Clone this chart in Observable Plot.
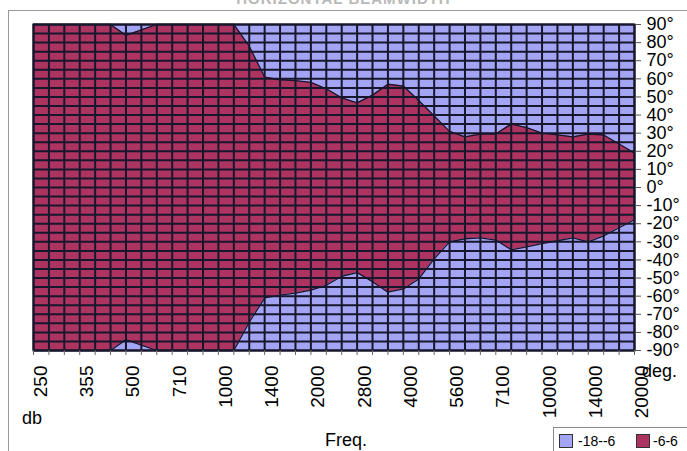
<!DOCTYPE html>
<html>
<head>
<meta charset="utf-8">
<script src="https://cdn.jsdelivr.net/npm/d3@7"></script>
<script src="https://cdn.jsdelivr.net/npm/@observablehq/plot@0.6"></script>
<style>
  html, body { margin: 0; padding: 0; background: #fff; }
  body { width: 687px; height: 451px; position: relative; overflow: hidden; font-family: "Liberation Sans", Arial, sans-serif; }
  #chart { position: absolute; left: 0; top: 0; }
  .lbl { position: absolute; font-size: 18px; color: #000; white-space: nowrap; line-height: 1; }
  #border { position: absolute; left: 8px; top: 10px; width: 700px; height: 460px; border-top: 1px solid #9a9a9a; border-left: 1px solid #9a9a9a; }
  #title { position: absolute; left: 0; width: 687px; top: -9px; text-align: center; font-size: 15px; font-weight: bold; color: #b8b8b8; line-height: 1; letter-spacing: 1px; }
  #legend { position: absolute; left: 553px; top: 427px; width: 140px; height: 30px; border: 1px solid #8a8a8a; background: #fff; font-size: 14px; }
  .sw { position: absolute; top: 6px; width: 14px; height: 14px; border: 1px solid #333; box-sizing: border-box; }
  .lt { position: absolute; top: 6px; line-height: 14px; }
</style>
</head>
<body>
<div id="chart"></div>
<div id="border"></div>
<div id="title">HORIZONTAL BEAMWIDTH</div>
<div class="lbl" style="left:642px; top:362px;">deg.</div>
<div class="lbl" style="left:22px; top:409px;">db</div>
<div class="lbl" style="left:325px; top:431px;">Freq.</div>
<div id="legend">
  <div class="sw" style="left:5px; background:#a4a4f4;"></div>
  <div class="lt" style="left:24px;">-18--6</div>
  <div class="sw" style="left:82px; background:#ad3460;"></div>
  <div class="lt" style="left:99px;">-6-6</div>
</div>
<script>
// Frequency category labels (every third fine column)
const categories = ["250","355","500","710","1000","1400","2000","2800","4000","5600","7100","10000","14000","20000"];
// Degree tick labels
const degreeTicks = [-90,-80,-70,-60,-50,-40,-30,-20,-10,0,10,20,30,40,50,60,70,80,90];
const degreeGrid = [-90,-85,-80,-75,-70,-65,-60,-55,-50,-45,-40,-35,-30,-25,-20,-15,-10,-5,0,5,10,15,20,25,30,35,40,45,50,55,60,65,70,75,80,85,90];
// Upper boundary (deg) of the -6..6 dB region at each of 40 fine columns
const upper = [90,90,90,90,90,90,84,87,90,90,90,90,90,90,78,61,59.5,59,58,54.5,49.5,46.7,51,57,56,48,39.5,31,28,29.5,29.5,35,33,30,29,28,29.5,29,24,19];
// Lower boundary (deg)
const lower = [-90,-90,-90,-90,-90,-90,-84,-87,-90,-90,-90,-90,-90,-90,-74.4,-61,-59.4,-58.3,-56.7,-54,-49,-47,-52,-57.8,-56,-50.5,-39.4,-30,-28.3,-27.8,-29,-34.4,-32.8,-31,-29.4,-27.8,-30,-26.7,-22.2,-17.8];

const BLUE = "#a4a4f4", RED = "#ad3460", GRID = "#16162c";
const fine = upper.map((_, i) => i);
const cols = upper.map((u, i) => ({i, u, l: lower[i]}));
const catTicks = categories.map((_, k) => k * 3);

const chart = Plot.plot({
  width: 687,
  height: 451,
  marginLeft: 33,
  marginRight: 53,
  marginTop: 24,
  marginBottom: 101,
  x: {domain: [0, fine.length - 1], axis: null},
  y: {domain: [-90, 90], axis: null},
  style: {fontFamily: "'Liberation Sans', Arial, sans-serif", background: "transparent", color: "#000"},
  marks: [
    Plot.frame({fill: BLUE, stroke: null}),
    Plot.areaY(cols, {x: "i", y1: "l", y2: "u", fill: RED}),
    Plot.gridX({ticks: fine, stroke: GRID, strokeOpacity: 1, strokeWidth: 2}),
    Plot.gridY({ticks: degreeGrid, stroke: GRID, strokeOpacity: 1, strokeWidth: 2}),
    Plot.line(cols, {x: "i", y: "u", stroke: GRID, strokeWidth: 1.3}),
    Plot.line(cols, {x: "i", y: "l", stroke: GRID, strokeWidth: 1.3}),
    Plot.frame({stroke: GRID, strokeWidth: 2}),
    Plot.axisY({anchor: "right", ticks: degreeTicks, tickFormat: d => `${d}°`, tickSize: 6, tickPadding: 6, fontSize: 18, label: null, stroke: "#555"}),
    Plot.axisX({anchor: "bottom", ticks: fine, tickSize: 5, tickFormat: () => "", label: null, stroke: "#666"}),
    Plot.axisX({anchor: "bottom", ticks: catTicks, tickFormat: d => categories[d / 3], rotate: -90, textAnchor: "end", tickSize: 0, tickPadding: 0, dy: 15, fontSize: 19, label: null})
  ]
});
document.getElementById("chart").appendChild(chart);
</script>
</body>
</html>
